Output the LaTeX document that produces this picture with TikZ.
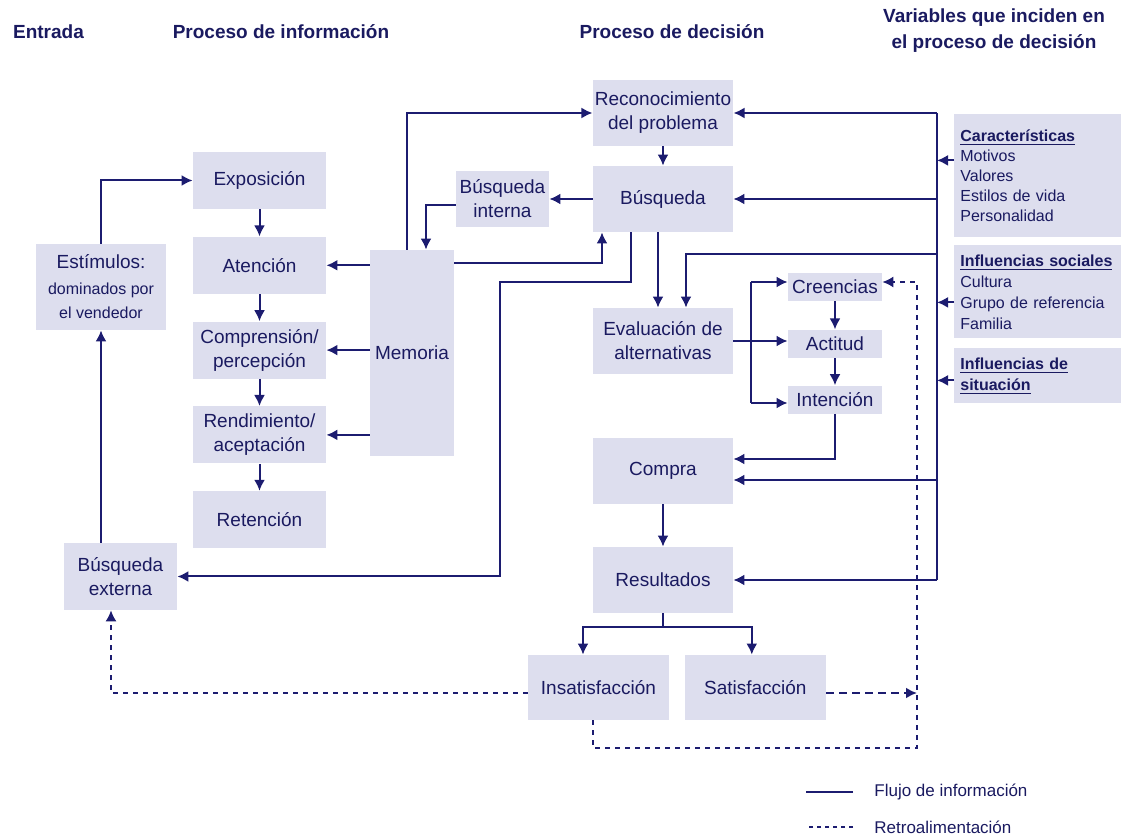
\documentclass[tikz,border=0pt]{standalone}
\usepackage{fontspec}
\setmainfont{Liberation Sans}
\usetikzlibrary{positioning, arrows.meta}

\definecolor{ink}{RGB}{26,26,96}
\definecolor{navy}{RGB}{28,28,112}
\definecolor{boxfill}{RGB}{221,222,238}

\tikzset{
  box/.style = {rectangle, fill=boxfill, text=ink, align=center, inner sep=1pt,
    font=\fontsize{9.5}{12}\selectfont},
  infobox/.style = {box, minimum width=66.5pt, minimum height=28.5pt},
  decbox/.style = {box, minimum width=70pt, minimum height=33pt},
  attbox/.style = {box, minimum width=47pt, minimum height=14pt},
  varbox/.style = {rectangle, fill=boxfill, text=ink, anchor=north west, align=left,
    text width=77.5pt, inner xsep=3pt, inner ysep=1pt, font=\fontsize{8}{10}\selectfont},
  title/.style = {text=ink, font=\fontsize{9.5}{13}\selectfont\bfseries, align=center},
  legend/.style = {anchor=west, text=ink, inner sep=0pt, font=\fontsize{8.5}{10}\selectfont},
  flow/.style = {draw=navy, line width=1pt, -{Latex[length=5.5pt, width=5.5pt]}},
  link/.style = {draw=navy, line width=1pt},
  feedback/.style = {draw=navy, line width=0.75pt, dash pattern=on 2.5pt off 2.5pt},
  feedback arrow/.style = {feedback, -{Latex[length=5.5pt, width=5.5pt]}}
}

\begin{document}
\begin{tikzpicture}[x=0.5pt, y=-0.5pt]
  \useasboundingbox (0,0) rectangle (1121,834);

  \node[title] (entrada) at (48.5,32) {Entrada};
  \node[title] (tinfo) at (281,32) {Proceso de información};
  \node[title] (tdecision) at (672,32) {Proceso de decisión};
  \node[title] (tvariables) at (994,31) {Variables que inciden en\\el proceso de decisión};

  \node[infobox] (expo) at (259.5,180.5) {Exposición};
  \node[infobox, below = 13.5pt of expo] (atencion) {Atención};
  \node[infobox, below = 13.5pt of atencion] (comprension) {Comprensión/\\percepción};
  \node[infobox, below = 13.5pt of comprension] (rendimiento) {Rendimiento/\\aceptación};
  \node[infobox, below = 13.5pt of rendimiento] (retencion) {Retención};

  \node[box, minimum width=65pt, minimum height=43pt] (estimulos) at (101,287)
    {Estímulos:\\[1pt]\fontsize{8}{9.5}\selectfont dominados por\\\fontsize{8}{9.5}\selectfont el vendedor};
  \node[box, minimum width=56.5pt, minimum height=33.5pt] (bext) at (120.5,576.5)
    {Búsqueda\\externa};
  \node[box, minimum width=42pt, minimum height=103pt] (memoria) at (412,353) {Memoria};
  \node[box, minimum width=46.5pt, minimum height=28pt] (bint) at (502.5,199)
    {Búsqueda\\interna};

  \node[decbox] (recon) at (663,113) {Reconocimiento\\del problema};
  \node[decbox] (busq) at (663,199) {Búsqueda};
  \node[decbox] (evalua) at (663,341) {Evaluación de\\alternativas};
  \node[decbox] (compra) at (663,471) {Compra};
  \node[decbox] (result) at (663,580) {Resultados};
  \node[decbox, minimum width=70.5pt, minimum height=32.5pt] (insat) at (598.5,687.5)
    {Insatisfacción};
  \node[decbox, minimum width=70.5pt, minimum height=32.5pt, right = 7.5pt of insat]
    (satis) {Satisfacción};

  \node[attbox] (creencias) at (835,287) {Creencias};
  \node[attbox, below = 14pt of creencias] (actitud) {Actitud};
  \node[attbox, below = 13.5pt of actitud] (intencion) {Intención};

  \node[varbox, minimum height=61.5pt] (caract) at (954,114)
    {\underline{\textbf{Características}}\\Motivos\\Valores\\Estilos de vida\\Personalidad};
  \node[varbox, minimum height=46.5pt, font=\fontsize{8}{10.5}\selectfont] (social) at (954,245)
    {\underline{\textbf{Influencias sociales}}\\Cultura\\Grupo de referencia\\Familia};
  \node[varbox, minimum height=27.5pt, font=\fontsize{8}{10.5}\selectfont] (situac) at (954,348)
    {\underline{\textbf{Influencias de}}\\\underline{\textbf{situación}}};

  \coordinate (busN) at (937,113);
  \coordinate (busS) at (937,580);
  \coordinate (k1) at (500,282);
  \coordinate (k2) at (937,254);
  \coordinate (ejeN) at (751,282);
  \coordinate (ejeS) at (751,403);
  \coordinate (split) at (663,627);
  \coordinate (retroS) at (917,748);

  \draw[flow] (estimulos.north) |- (expo.west);
  \draw[flow] (bext.north -| estimulos.south) -- (estimulos.south);

  \path (expo) edge[flow] (atencion)
    (atencion) edge[flow] (comprension)
    (comprension) edge[flow] (rendimiento)
    (rendimiento) edge[flow] (retencion);

  \draw[flow] (memoria.west |- atencion) -- (atencion.east);
  \draw[flow] (memoria.west |- comprension) -- (comprension.east);
  \draw[flow] (memoria.west |- rendimiento) -- (rendimiento.east);

  \draw[flow] ([xshift=-2.5pt]memoria.north) |- (recon.west);
  \draw[flow] (busq.west) -- (busq.west -| bint.east);
  \draw[flow] ([yshift=-3pt]bint.west) -| ([xshift=7pt]memoria.north);
  \draw[flow] ([yshift=45pt]memoria.east) -| ([xshift=-30.5pt]busq.south);
  \draw[flow] ([xshift=-16pt]busq.south) |- (k1) |- (bext.east);

  \path (recon) edge[flow] (busq);
  \draw[flow] ([xshift=-2.5pt]busq.south) -- ([xshift=-2.5pt]evalua.north);

  \draw[link] (busN) -- (busS);
  \draw[flow] (busN) -- (recon.east);
  \draw[flow] (busN |- busq.east) -- (busq.east);
  \draw[flow] (k2) -| ([xshift=11.5pt]evalua.north);
  \draw[flow] ([yshift=-4.5pt]compra.east -| busN) -- ([yshift=-4.5pt]compra.east);
  \draw[flow] (busS) -- (result.east);

  \draw[flow] ([yshift=7.75pt]caract.west) -- ([yshift=7.75pt]caract.west -| busN);
  \draw[flow] ([yshift=-5.25pt]social.west) -- ([yshift=-5.25pt]social.west -| busN);
  \draw[flow] ([yshift=-2.25pt]situac.west) -- ([yshift=-2.25pt]situac.west -| busN);

  \draw[flow] (evalua.east) -- (evalua.east -| actitud.west);
  \draw[link] (ejeN) -- (ejeS);
  \draw[flow] (ejeN) -- (ejeN -| creencias.west);
  \draw[flow] (ejeS) -- (ejeS -| intencion.west);
  \path (creencias) edge[flow] (actitud)
    (actitud) edge[flow] (intencion);
  \draw[flow] (intencion.south) |- ([yshift=6pt]compra.east);

  \path (compra) edge[flow] (result);
  \draw[link] (result.south) -- (split);
  \draw[flow] (split) -| ([xshift=-7.75pt]insat.north);
  \draw[flow] (split) -| ([xshift=-1.75pt]satis.north);

  \draw[feedback arrow] ([yshift=-2.75pt]insat.west) -| ([xshift=-4.75pt]bext.south);
  \draw[feedback arrow] ([xshift=-2.75pt]insat.south) |- (retroS) |- ([yshift=2.5pt]creencias.east);
  \draw[feedback arrow, line width=1.3pt, dash pattern=on 4pt off 2.5pt]
    ([yshift=-2.75pt]satis.east) -- ([yshift=-2.75pt]satis.east -| retroS);

  \node[legend] (leyflujo) at (874,792) {Flujo de información};
  \node[legend] (leyretro) at (874,827) {Retroalimentación};
  \draw[link, line width=0.6pt] ([xshift=-10.5pt]leyflujo.west) -- ++(-23.5pt,0);
  \draw[feedback, line width=0.6pt, dash pattern=on 2pt off 2pt]
    ([xshift=-10.5pt]leyretro.west) -- ++(-23.5pt,0);
\end{tikzpicture}
\end{document}
